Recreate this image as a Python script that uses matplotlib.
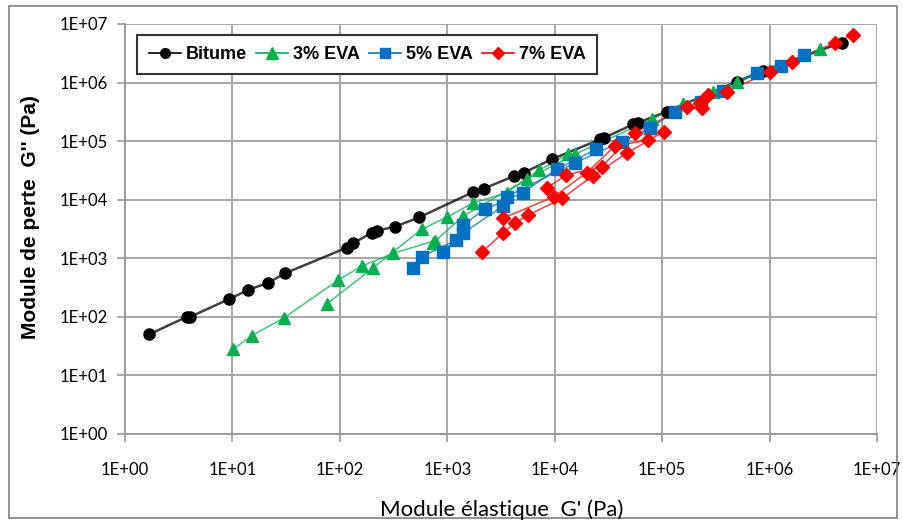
import math
import matplotlib
matplotlib.use("Agg")
import matplotlib.pyplot as plt
from matplotlib.patches import Rectangle
from matplotlib.ticker import FixedLocator, FuncFormatter, NullLocator

# G' (Pa) and G'' (Pa) for each binder; every series is made of several isotherms
bitume_gp = [1.67, 3.75, 4.03, 9.2, 14, 21.6, 30.8, 116, 133, 198, 220, 326, 549,
             1746, 2193, 4180, 5170, 9340, 26400, 28500, 53900, 59000, 110000,
             494000, 875000, 4.69e6]
bitume_gpp = [50, 100, 100, 199, 288, 383, 554, 1517, 1804, 2735, 2958, 3465, 5010,
              13550, 15500, 25400, 28900, 49000, 107000, 113000, 194000, 205000, 318000,
              1.04e6, 1.6e6, 4.8e6]

eva3_gp_1 = [10.2, 15.1, 30.4, 96.8, 160, 314, 769]
eva3_gpp_1 = [27.9, 47.7, 96.8, 426, 738, 1217, 1996]
eva3_gp_2 = [75.4, 205, 578, 988, 1721, 3570, 7180, 13400]
eva3_gpp_2 = [166, 692, 3126, 5013, 8690, 13200, 32200, 60400]
eva3_gp_3 = [741, 1410, 5480, 15500, 79800, 157000]
eva3_gpp_3 = [1845, 5250, 22300, 60000, 236000, 431000]
eva3_gp_4 = [157000, 300000, 494000, 2.94e6]
eva3_gpp_4 = [431000, 700000, 1.04e6, 3.7e6]

eva5_gp_1 = [483, 578, 1202, 1390, 2244, 5040, 10400, 24200]
eva5_gpp_1 = [675, 1065, 2050, 3700, 6860, 13200, 33100, 72600]
eva5_gp_2 = [904, 1390, 3327, 3570, 15500, 42000, 77100]
eva5_gpp_2 = [1297, 2670, 7820, 11300, 42800, 98000, 166000]
eva5_gp_3 = [77100, 132000, 230000, 371000, 759000, 1.29e6, 2.09e6]
eva5_gpp_3 = [166000, 318000, 470000, 726000, 1.44e6, 1.92e6, 2.95e6]

eva7_gp_1 = [2120, 3275, 4270, 5680, 11800, 22500, 46700, 103000]
eva7_gpp_1 = [1297, 2670, 4050, 5480, 10600, 25400, 62000, 145000]
eva7_gp_2 = [3275, 9840, 19800, 36400, 74300]
eva7_gpp_2 = [4820, 11270, 28900, 82600, 105000]
eva7_gp_3 = [8410, 12700, 27400, 55800, 169000, 233000]
eva7_gpp_3 = [15700, 26400, 36600, 139000, 387000, 364000]
eva7_gp_4 = [225000, 269000, 398000, 1.01e6, 1.61e6, 4.06e6, 5.94e6]
eva7_gpp_4 = [443000, 614000, 699000, 1.53e6, 2.28e6, 4.79e6, 6.49e6]

decades = [1e0, 1e1, 1e2, 1e3, 1e4, 1e5, 1e6, 1e7]

series = [
    ("Bitume", "#000000", "o", [(bitume_gp, bitume_gpp)]),
    ("3% EVA", "#00b050", "^", [(eva3_gp_1, eva3_gpp_1), (eva3_gp_2, eva3_gpp_2),
                                (eva3_gp_3, eva3_gpp_3), (eva3_gp_4, eva3_gpp_4)]),
    ("5% EVA", "#0070c0", "s", [(eva5_gp_1, eva5_gpp_1), (eva5_gp_2, eva5_gpp_2),
                                (eva5_gp_3, eva5_gpp_3)]),
    ("7% EVA", "#ff0000", "D", [(eva7_gp_1, eva7_gpp_1), (eva7_gp_2, eva7_gpp_2),
                                (eva7_gp_3, eva7_gpp_3), (eva7_gp_4, eva7_gpp_4)]),
]
marker_sizes = {"o": 8, "^": 9, "s": 8, "D": 7}
line_widths = {"o": 1.8, "^": 1.1, "s": 1.1, "D": 1.1}

fig = plt.figure(figsize=(9.04, 5.24), dpi=100)
ax = fig.add_axes([125 / 904, 1 - 434 / 524, 752 / 904, 410 / 524])

for name, color, marker, segments in series:
    for gp, gpp in segments:
        ax.plot(gp, gpp, color=color, lw=line_widths[marker], alpha=0.75, zorder=3)
        ax.plot(gp, gpp, ls="none", marker=marker, ms=marker_sizes[marker],
                mfc=color, mec=color, zorder=4)
    # legend entry
    ax.plot([], [], color=color, lw=1.2, marker=marker, ms=marker_sizes[marker] - 1,
            mfc=color, mec=color, label=name)

ax.set_xscale("log")
ax.set_yscale("log")
ax.set_xlim(decades[0], decades[-1])
ax.set_ylim(decades[0], decades[-1])

fmt = FuncFormatter(lambda v, p: "1E+%02d" % round(math.log10(v)))
for axis in (ax.xaxis, ax.yaxis):
    axis.set_major_locator(FixedLocator(decades))
    axis.set_minor_locator(NullLocator())
    axis.set_major_formatter(fmt)

tick_font = ["Lato", "DejaVu Sans"]
for lab in ax.get_xticklabels() + ax.get_yticklabels():
    lab.set_family(tick_font)
    lab.set_fontsize(12)
ax.tick_params(axis="both", direction="out", length=6, width=1.2, color="#9a9a9a")
ax.tick_params(axis="x", pad=14)
ax.tick_params(axis="y", pad=6)

ax.grid(True, which="major", color="#a6a6a6", lw=1.4)
ax.set_axisbelow(True)
for side in ("top", "right"):
    ax.spines[side].set_visible(False)
for side in ("left", "bottom"):
    ax.spines[side].set_color("#9a9a9a")
    ax.spines[side].set_linewidth(1.4)

fig.text(502 / 904, 1 - 510 / 524, "Module élastique  G' (Pa)", fontsize=16,
         family=tick_font, ha="center", va="center")
fig.text(31 / 904, 1 - 217 / 524, "Module de perte  G'' (Pa)", fontsize=15,
         fontweight="bold", family=["Liberation Sans", "DejaVu Sans"],
         rotation=90, ha="center", va="center")

leg = ax.legend(loc="upper left", bbox_to_anchor=(12.5 / 752, 1 - 11 / 410), ncol=4,
                frameon=True, fancybox=False, framealpha=1, edgecolor="#333333",
                prop={"family": ["Liberation Sans", "DejaVu Sans"], "weight": "bold",
                      "size": 13},
                handlelength=1.8, columnspacing=0.5, handletextpad=0.25,
                borderpad=0.62, borderaxespad=0)
leg.get_frame().set_linewidth(1.5)

fig.patches.append(Rectangle((9 / 904, 6 / 524), 888 / 904, 512 / 524,
                             transform=fig.transFigure, fill=False,
                             edgecolor="#7f7f7f", lw=1.2))

fig.savefig("out.png", dpi=100)
